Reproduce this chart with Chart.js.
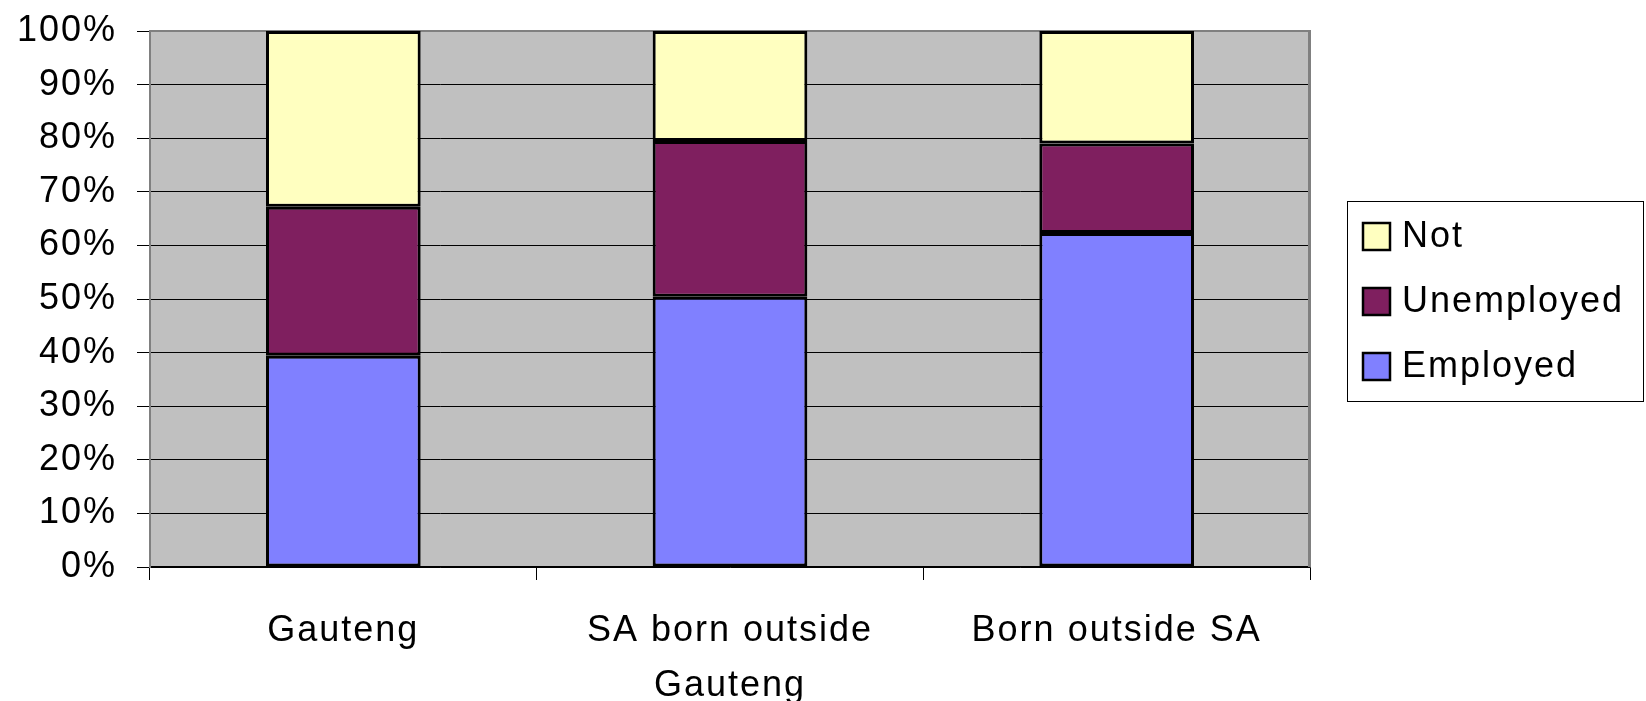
<!DOCTYPE html>
<html>
<head>
<meta charset="utf-8">
<script src="https://cdn.jsdelivr.net/npm/chart.js@4/dist/chart.umd.min.js"></script>
<style>
  html, body { margin: 0; padding: 0; background: #ffffff; }
  #wrap { width: 1646px; height: 701px; }
</style>
</head>
<body>
<div id="wrap"><canvas id="c" width="1646" height="701"></canvas></div>
<script>
// Labour-market status by place of birth (shares of each group, %)
const categories = [['Gauteng'], ['SA born outside', 'Gauteng'], ['Born outside SA']];
const employed   = [39.4, 50.4, 62.3];
const unemployed = [27.8, 29.1, 16.7];
const notActive  = [32.8, 20.5, 21.0];
const yTicks     = [0, 10, 20, 30, 40, 50, 60, 70, 80, 90, 100];

const FONT = "'Liberation Sans', Arial, sans-serif";
const SPACING = '2px';

// Grey plot background, plot frame, spaced text
const frame = {
  id: 'frame',
  beforeLayout(chart) { chart.ctx.letterSpacing = SPACING; },
  beforeDraw(chart) {
    const { ctx, chartArea: a } = chart;
    ctx.letterSpacing = SPACING;
    ctx.save();
    ctx.fillStyle = '#c0c0c0';
    ctx.fillRect(a.left, a.top, a.right - a.left, a.bottom - a.top);
    ctx.restore();
  },
  beforeDatasetsDraw(chart) {
    const { ctx, chartArea: a } = chart;
    ctx.save();
    ctx.strokeStyle = '#808080';
    ctx.lineWidth = 2;
    ctx.beginPath();
    ctx.moveTo(a.left, a.top);
    ctx.lineTo(a.right, a.top);
    ctx.stroke();
    ctx.lineWidth = 3;
    ctx.beginPath();
    ctx.moveTo(a.right - 0.5, a.top - 1);
    ctx.lineTo(a.right - 0.5, a.bottom);
    ctx.stroke();
    ctx.restore();
  }
};

// Boxed legend at the right, top entry = top of the stack
const boxLegend = {
  id: 'boxLegend',
  afterDraw(chart) {
    const { ctx } = chart;
    const box = { x: 1347, y: 201, w: 297, h: 201 };
    ctx.save();
    ctx.letterSpacing = SPACING;
    ctx.fillStyle = '#ffffff';
    ctx.fillRect(box.x, box.y, box.w, box.h);
    ctx.strokeStyle = '#000000';
    ctx.lineWidth = 1;
    ctx.strokeRect(box.x + 0.5, box.y + 0.5, box.w - 1, box.h - 1);
    const items = chart.data.datasets.slice().reverse();
    const rowY = [236, 301, 366];
    ctx.font = '36px ' + FONT;
    ctx.textBaseline = 'middle';
    ctx.textAlign = 'left';
    items.forEach((ds, i) => {
      const cy = rowY[i];
      ctx.fillStyle = ds.backgroundColor;
      ctx.fillRect(1363, cy - 13, 27, 27);
      ctx.strokeStyle = '#000000';
      ctx.lineWidth = 2.5;
      ctx.strokeRect(1363, cy - 13, 27, 27);
      ctx.fillStyle = '#000000';
      ctx.fillText(ds.label, 1402, cy + 1);
    });
    ctx.restore();
  }
};

const barStyle = { borderColor: '#000000', borderWidth: 3, borderSkipped: false,
                   barPercentage: 0.40, categoryPercentage: 1.0 };

new Chart(document.getElementById('c'), {
  type: 'bar',
  data: {
    labels: categories,
    datasets: [
      Object.assign({ label: 'Employed',   data: employed,   backgroundColor: '#8080ff' }, barStyle),
      Object.assign({ label: 'Unemployed', data: unemployed, backgroundColor: '#7f1f5f' }, barStyle),
      Object.assign({ label: 'Not',        data: notActive,  backgroundColor: '#ffffc0' }, barStyle)
    ]
  },
  options: {
    responsive: false,
    animation: false,
    devicePixelRatio: 1,
    layout: { padding: { top: 31, right: 336, left: 0, bottom: 0 } },
    plugins: { legend: { display: false }, tooltip: { enabled: false } },
    scales: {
      x: {
        stacked: true,
        offset: true,
        afterFit(scale) { scale.height = 134; },
        grid: { offset: true, drawOnChartArea: false, color: '#000000', tickLength: 13, lineWidth: 1 },
        border: { display: true, color: '#000000', width: 1.5 },
        ticks: { color: '#000000', font: { family: FONT, size: 36, lineHeight: 1.52 }, padding: 24,
                 maxRotation: 0, autoSkip: false }
      },
      y: {
        stacked: true,
        min: 0, max: 100,
        afterFit(scale) { scale.width = 150; scale.paddingTop = 0; scale.paddingBottom = 0; },
        afterBuildTicks(scale) { scale.ticks = yTicks.map(v => ({ value: v })); },
        grid: {
          color: ctx => (ctx.tick && ctx.tick.value === 100) ? '#808080' : '#000000',
          tickColor: '#000000', tickLength: 13, lineWidth: 1
        },
        border: { display: true, color: '#808080', width: 2 },
        ticks: { color: '#000000', font: { family: FONT, size: 36 }, padding: 20,
                 callback: v => v + '%' }
      }
    }
  },
  plugins: [frame, boxLegend]
});
</script>
</body>
</html>
